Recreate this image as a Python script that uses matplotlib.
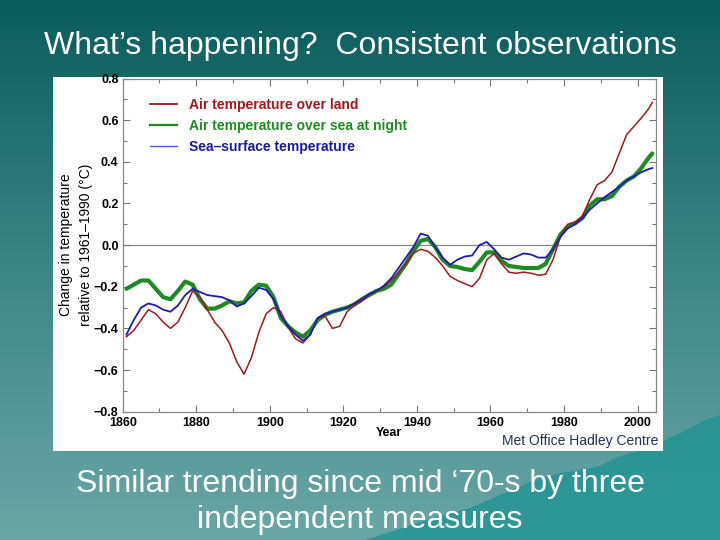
import numpy as np
import matplotlib
matplotlib.use("Agg")
import matplotlib.pyplot as plt
from matplotlib.colors import LinearSegmentedColormap
from matplotlib.ticker import MultipleLocator, FixedLocator
from matplotlib.lines import Line2D
from matplotlib.patches import Polygon

years = list(range(1861, 2004, 2)) + [2004]

land = [-0.44, -0.41, -0.36, -0.31, -0.33, -0.37, -0.40, -0.37, -0.30, -0.22,
        -0.25, -0.31, -0.37, -0.41, -0.47, -0.56, -0.62, -0.54, -0.42, -0.33,
        -0.30, -0.32, -0.395, -0.45, -0.47, -0.43, -0.35, -0.34, -0.40, -0.39,
        -0.32, -0.29, -0.27, -0.24, -0.22, -0.20, -0.17, -0.13, -0.09, -0.04,
        -0.02, -0.03, -0.06, -0.10, -0.15, -0.17, -0.185, -0.20, -0.16, -0.07,
        -0.04, -0.09, -0.13, -0.135, -0.13, -0.135, -0.145, -0.14, -0.07, 0.04,
        0.10, 0.11, 0.14, 0.22, 0.29, 0.31, 0.35, 0.44, 0.53, 0.57,
        0.61, 0.655, 0.685]

sea_night = [-0.21, -0.19, -0.17, -0.17, -0.21, -0.25, -0.26, -0.22, -0.175, -0.19,
             -0.26, -0.305, -0.305, -0.29, -0.27, -0.28, -0.275, -0.22, -0.19, -0.195,
             -0.25, -0.35, -0.39, -0.42, -0.44, -0.41, -0.36, -0.335, -0.32, -0.31,
             -0.30, -0.285, -0.26, -0.24, -0.22, -0.21, -0.19, -0.14, -0.09, -0.03,
             0.02, 0.03, -0.01, -0.07, -0.10, -0.105, -0.115, -0.12, -0.08, -0.035,
             -0.035, -0.075, -0.10, -0.105, -0.11, -0.11, -0.11, -0.09, -0.02, 0.05,
             0.09, 0.105, 0.13, 0.19, 0.22, 0.22, 0.235, 0.28, 0.31, 0.33,
             0.37, 0.42, 0.44]

sst = [-0.43, -0.36, -0.30, -0.28, -0.29, -0.31, -0.32, -0.29, -0.24, -0.21,
       -0.225, -0.24, -0.245, -0.25, -0.265, -0.295, -0.28, -0.245, -0.205, -0.215,
       -0.26, -0.34, -0.39, -0.43, -0.46, -0.43, -0.35, -0.33, -0.32, -0.31,
       -0.30, -0.28, -0.26, -0.235, -0.22, -0.195, -0.16, -0.11, -0.06, -0.01,
       0.055, 0.045, -0.01, -0.06, -0.095, -0.07, -0.055, -0.05, 0.0, 0.015,
       -0.02, -0.06, -0.07, -0.055, -0.04, -0.045, -0.06, -0.06, -0.02, 0.04,
       0.08, 0.10, 0.13, 0.17, 0.20, 0.23, 0.255, 0.28, 0.31, 0.33,
       0.35, 0.365, 0.37]

series_labels = ["Air temperature over land",
                 "Air temperature over sea at night",
                 "Sea\u2013surface temperature"]
xtick_labels = ["1860", "1880", "1900", "1920", "1940", "1960", "1980", "2000"]
ytick_labels = ["\u22120.8", "\u22120.6", "\u22120.4", "\u22120.2", "0.0", "0.2", "0.4", "0.6", "0.8"]

title = "What\u2019s happening?  Consistent observations"
subtitle = "Similar trending since mid \u201870-s by three\nindependent measures"

plt.rcParams['font.family'] = ['Liberation Sans', 'DejaVu Sans']

W, H = 720, 540
fig = plt.figure(figsize=(7.2, 5.4), dpi=100)

# background gradient
bg = fig.add_axes([0, 0, 1, 1], zorder=-10)
cmap = LinearSegmentedColormap.from_list("bg", ["#0a5c5c", "#3d8686", "#6aa6a6"])
grad = np.linspace(0, 1, 256).reshape(-1, 1)
bg.imshow(grad, aspect="auto", cmap=cmap, extent=[0, W, H, 0], origin="upper")
# decorative wave in lower right
wave = [(365, 540), (390, 532), (420, 522), (445, 515), (470, 508), (500, 495),
        (530, 482), (555, 474), (580, 470), (600, 466), (615, 458), (640, 450),
        (665, 440), (690, 428), (705, 420), (720, 415), (720, 540)]
bg.add_patch(Polygon(wave, closed=True, facecolor="#239494", edgecolor="none", alpha=0.85))
bg.set_xlim(0, W)
bg.set_ylim(H, 0)
bg.axis("off")

def px(x, y):
    return x / W, 1 - y / H

# white panel
pl, pt = px(53, 77)
pr, pb = px(663, 451)
fig.patches.append(plt.Rectangle((pl, pb), pr - pl, pt - pb, transform=fig.transFigure,
                                 facecolor="white", edgecolor="none", zorder=-5))

# axes
al, at = px(122.7, 78.5)
ar, ab = px(656, 411.7)
ax = fig.add_axes([al, ab, ar - al, at - ab])
ax.set_facecolor("white")

c_red, c_green, c_blue = "#a3181c", "#1e8a24", "#1c1cb0"
ax.axhline(0, color="#888888", lw=0.9, zorder=1)
ax.plot(years, sea_night, color=c_green, lw=3.0, zorder=2, solid_capstyle="round",
        solid_joinstyle="round")
ax.plot(years, land, color=c_red, lw=1.1, zorder=3, solid_joinstyle="round")
ax.plot(years, sst, color=c_blue, lw=1.3, zorder=4, solid_joinstyle="round")

ax.set_xlim(1860, 2005)
ax.set_ylim(-0.8, 0.8)
ax.xaxis.set_major_locator(FixedLocator([1860 + 20 * i for i in range(len(xtick_labels))]))
ax.set_xticklabels(xtick_labels)
ax.xaxis.set_minor_locator(MultipleLocator(10))
ax.yaxis.set_major_locator(FixedLocator([-0.8 + 0.2 * i for i in range(len(ytick_labels))]))
ax.set_yticklabels(ytick_labels)
ax.yaxis.set_minor_locator(MultipleLocator(0.1))
ax.tick_params(which="both", direction="in", top=True, right=True, color="#777777", width=0.8)
ax.tick_params(which="major", length=5, labelsize=9)
ax.tick_params(axis="y", which="major", pad=3)
ax.tick_params(axis="x", which="major", pad=4)
ax.tick_params(which="minor", length=3)
for lab in ax.get_xticklabels() + ax.get_yticklabels():
    lab.set_fontweight("bold")
for s in ax.spines.values():
    s.set_color("#888888")
    s.set_linewidth(0.9)

ax.set_xlabel("Year", fontsize=9, fontweight="bold")
ax.xaxis.set_label_coords(0.5, -0.047)
ax.set_ylabel("Change in temperature\nrelative to 1961\u20131990 (\u00b0C)", fontsize=10,
              linespacing=1.5)
ax.yaxis.set_label_coords(-0.056, 0.5)

handles = [Line2D([], [], color=c_red, lw=1.3),
           Line2D([], [], color=c_green, lw=1.6),
           Line2D([], [], color="#5555dd", lw=1.0)]
leg = ax.legend(handles, series_labels, loc="upper left", bbox_to_anchor=(0.028, 0.978),
                frameon=False, handlelength=1.9, handletextpad=0.9, labelspacing=0.5,
                prop={"size": 10, "weight": "bold"})
for txt, col in zip(leg.get_texts(), ["#a3181c", "#228a22", "#1a1a9e"]):
    txt.set_color(col)

fig.text(*px(658, 441), "Met Office Hadley Centre", ha="right", va="center",
         fontsize=10, color="#1d3358")

fig.text(*px(360, 46), title, ha="center", va="center", fontsize=23, color="white")
fig.text(*px(360, 502), subtitle, ha="center", va="center", fontsize=23, color="white",
         linespacing=1.25)

fig.savefig("out.png", dpi=100)
